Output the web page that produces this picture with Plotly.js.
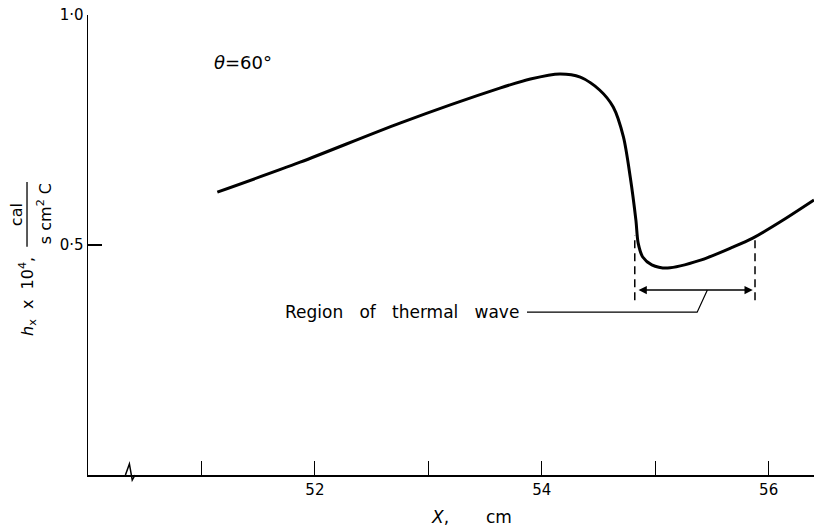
<!DOCTYPE html>
<html>
<head>
<meta charset="utf-8">
<script src="https://cdn.plot.ly/plotly-3.0.1.min.js"></script>
<style>html,body{margin:0;padding:0;background:#fff;}#chart{width:814px;height:526px;}</style>
</head>
<body>
<div id="chart"></div>
<script>
// Curve: local heat transfer coefficient vs distance (theta = 60 deg)
var curveX = [51.14, 51.87, 52.75, 53.63, 53.90, 54.16, 54.34, 54.51, 54.63, 54.72, 54.78, 54.83, 54.85, 54.89, 54.97, 55.11, 55.40, 55.69, 55.86, 56.10, 56.40];
var curveY = [0.615, 0.680, 0.765, 0.841, 0.861, 0.872, 0.865, 0.837, 0.800, 0.735, 0.648, 0.554, 0.504, 0.474, 0.457, 0.450, 0.467, 0.496, 0.515, 0.550, 0.598];

// Region of thermal wave bounds
var waveStartX = [54.82, 54.82];
var waveStartY = [0.38, 0.522];
var waveEndX = [55.88, 55.88];
var waveEndY = [0.38, 0.515];
var arrowY = 0.402;

// leader line from label to arrow
var leaderX = [53.87, 55.37, 55.46];
var leaderY = [0.354, 0.354, 0.402];

// axis break mark (x in data units, y in axis-fraction units)
var breakX = [50.33, 50.365, 50.39, 50.415];
var breakY = [0, 0.024, -0.011, 0];

var xTickVals = [51, 52, 53, 54, 55, 56];
var xTickText = ['', '52', '', '54', '', '56'];
var yTickVals = [0.5, 1.0];
var yTickText = ['0·5', '1·0'];

var FONT = 'DejaVu Sans, Liberation Sans, Arial, sans-serif';

var traces = [
  {x: curveX, y: curveY, mode: 'lines', line: {color: '#000', width: 3, shape: 'spline', smoothing: 0.8}, hoverinfo: 'skip'},
  {x: waveStartX, y: waveStartY, mode: 'lines', line: {color: '#000', width: 1.5, dash: '8px,5px'}, hoverinfo: 'skip'},
  {x: waveEndX, y: waveEndY, mode: 'lines', line: {color: '#000', width: 1.5, dash: '8px,5px'}, hoverinfo: 'skip'},
  {x: leaderX, y: leaderY, mode: 'lines', line: {color: '#000', width: 1.2}, hoverinfo: 'skip'}
];

var breakPath = breakX.map(function (v, i) { return (i === 0 ? 'M ' : 'L ') + v + ',' + breakY[i]; }).join(' ');

function ann(o) {
  o.showarrow = false; o.xanchor = 'center'; o.yanchor = 'middle';
  return o;
}

var layout = {
  width: 814, height: 526,
  margin: {l: 88, r: 0, t: 15, b: 51},
  paper_bgcolor: '#fff', plot_bgcolor: '#fff',
  showlegend: false,
  font: {family: FONT, color: '#000', size: 15},
  xaxis: {
    range: [50, 56.40], showgrid: false, zeroline: false,
    showline: true, linecolor: '#000', linewidth: 1.5,
    ticks: 'inside', ticklen: 14, tickwidth: 1.2, tickcolor: '#000',
    tickvals: xTickVals, ticktext: xTickText,
    tickfont: {family: FONT, size: 15, color: '#000'}
  },
  yaxis: {
    range: [0, 1.0], showgrid: false, zeroline: false,
    showline: true, linecolor: '#000', linewidth: 1.5,
    ticks: 'inside', ticklen: 14, tickwidth: 1.2, tickcolor: '#000',
    tickvals: yTickVals, ticktext: yTickText,
    tickfont: {family: FONT, size: 15, color: '#000'}
  },
  annotations: [
    ann({xref: 'x', yref: 'y', x: 51.37, y: 0.896, text: '<i>θ</i>=60°', font: {family: FONT, size: 18}}),
    ann({xref: 'x', yref: 'y', x: 52.77, y: 0.354, text: 'Region\u00A0\u00A0 of\u00A0\u00A0 thermal\u00A0\u00A0 wave', font: {family: FONT, size: 17}}),
    {xref: 'x', yref: 'y', x: 55.86, y: arrowY, axref: 'x', ayref: 'y', ax: 54.84, ay: arrowY,
     text: '', showarrow: true, arrowside: 'end+start', arrowhead: 2, arrowsize: 1.1, arrowwidth: 1.5, arrowcolor: '#000'},
    ann({xref: 'x', yref: 'paper', x: 53.10, y: -0.091, text: '<i>X</i>,', font: {family: FONT, size: 17}}),
    ann({xref: 'x', yref: 'paper', x: 53.62, y: -0.091, text: 'cm', font: {family: FONT, size: 17}}),
    ann({xref: 'paper', yref: 'paper', x: -0.0826, y: 0.387, text: '<i>h</i><sub>x</sub>\u00A0 x\u00A0 10<sup>4</sup>,', textangle: -90, font: {family: FONT, size: 16}}),
    ann({xref: 'paper', yref: 'paper', x: -0.0992, y: 0.567, text: 'cal', textangle: -90, font: {family: FONT, size: 16}}),
    ann({xref: 'paper', yref: 'paper', x: -0.0606, y: 0.567, text: 's cm<sup>2</sup> C', textangle: -90, font: {family: FONT, size: 16}})
  ],
  shapes: [
    {type: 'line', xref: 'paper', yref: 'paper', x0: -0.084, x1: -0.084, y0: 0.496, y1: 0.637, line: {color: '#000', width: 1.3}},
    {type: 'path', xref: 'x', yref: 'paper', path: breakPath, line: {color: '#000', width: 1.5}}
  ]
};

Plotly.newPlot('chart', traces, layout, {staticPlot: true, displayModeBar: false});
</script>
</body>
</html>
